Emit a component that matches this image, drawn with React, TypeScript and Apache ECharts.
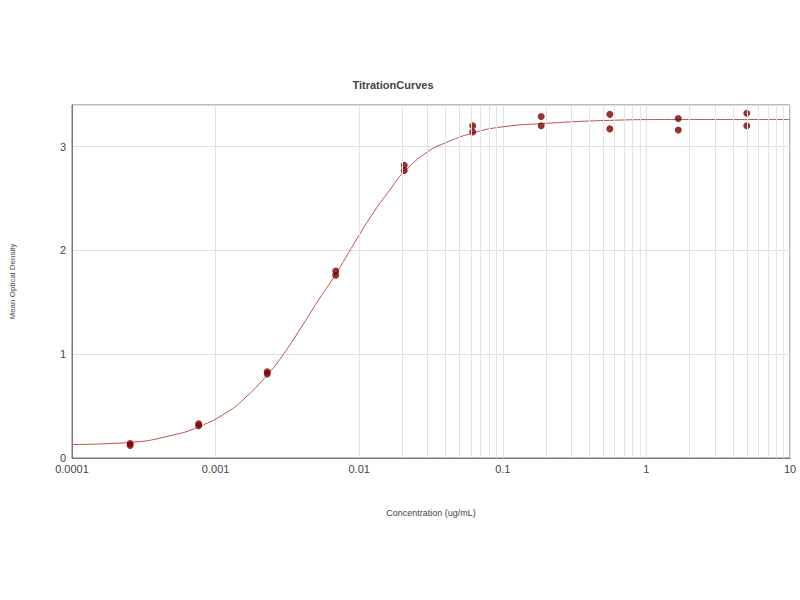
import React, { useEffect, useRef } from "react";
import * as echarts from "echarts";

// Concentrations (ug/mL), 3-fold dilution series, duplicates
const concentrations = [0.000254, 0.000762, 0.00229, 0.00686, 0.0206, 0.0617, 0.185, 0.556, 1.667, 5];
const replicateA = [0.12, 0.31, 0.81, 1.76, 2.77, 3.14, 3.2, 3.17, 3.16, 3.2];
const replicateB = [0.14, 0.33, 0.83, 1.8, 2.82, 3.2, 3.29, 3.31, 3.27, 3.32];

// Fitted curve
const curveX = [0.0001, 0.000254, 0.0005, 0.000762, 0.0012, 0.00158, 0.00229, 0.0029, 0.004, 0.0052, 0.00686, 0.0088, 0.0121, 0.0165, 0.0206, 0.03, 0.039, 0.0617, 0.1, 0.184, 0.5, 1.5, 10];
const curveY = [0.13, 0.15, 0.22, 0.3, 0.44, 0.57, 0.8, 0.98, 1.27, 1.52, 1.77, 2.02, 2.33, 2.59, 2.76, 2.95, 3.03, 3.13, 3.19, 3.22, 3.25, 3.26, 3.26];

const yTicks = [0, 1, 2, 3];
const xDecades = [0.0001, 0.001, 0.01, 0.1, 1, 10];

export default function App() {
  const ref = useRef<HTMLDivElement>(null);
  useEffect(() => {
    if (!ref.current) return;
    const chart = echarts.init(ref.current, undefined, { renderer: "svg" });
    const minorLines: { xAxis: number }[] = [];
    for (let i = 0; i < xDecades.length - 1; i++) {
      for (let k = 2; k <= 9; k++) minorLines.push({ xAxis: xDecades[i] * k });
    }
    const font = "Liberation Sans";
    chart.setOption({
      animation: false,
      backgroundColor: "#ffffff",
      title: {
        text: "TitrationCurves",
        left: 388,
        top: 74,
        textAlign: "center",
        textStyle: { fontFamily: font, fontSize: 11, fontWeight: 600, color: "#444" },
      },
      grid: { left: 70, right: 10, top: 105, bottom: 142, show: true, borderColor: "#777", borderWidth: 1, backgroundColor: "transparent" },
      xAxis: {
        type: "log",
        logBase: 10,
        min: xDecades[0],
        max: xDecades[xDecades.length - 1],
        name: "Concentration (ug/mL)",
        nameLocation: "middle",
        nameGap: 50,
        nameTextStyle: { fontFamily: font, fontSize: 9, color: "#444" },
        axisLine: { show: true, lineStyle: { color: "#777" } },
        axisTick: { show: false },
        axisLabel: {
          fontFamily: font,
          fontSize: 11,
          color: "#444",
          margin: 5,
          formatter: (v: number) => String(Number(v.toPrecision(1))),
        },
        splitLine: { show: true, lineStyle: { color: "#e0e0e0", width: 1 } },
      },
      yAxis: {
        type: "value",
        min: 0,
        max: 3.4,
        interval: 1,
        name: "Mean Optical Density",
        nameLocation: "middle",
        nameGap: 56,
        nameRotate: 90,
        nameTextStyle: { fontFamily: font, fontSize: 8, color: "#444" },
        axisLine: { show: true, lineStyle: { color: "#777" } },
        axisTick: { show: false },
        axisLabel: {
          fontFamily: font,
          fontSize: 11,
          color: "#444",
          margin: 6,
          showMaxLabel: false,
          formatter: (v: number) => (yTicks.includes(v) ? String(v) : ""),
        },
        splitLine: { show: true, lineStyle: { color: "#e0e0e0", width: 1 } },
      },
      series: [
        {
          type: "line",
          data: [],
          silent: true,
          markLine: {
            silent: true,
            symbol: "none",
            label: { show: false },
            lineStyle: { color: "#e4e4e4", width: 1, type: "solid" },
            data: minorLines,
          },
        },
        {
          type: "line",
          data: curveX.map((x, i) => [x, curveY[i]]),
          smooth: 0.5,
          showSymbol: false,
          lineStyle: { color: "#c0504d", width: 1 },
          z: 3,
        },
        {
          type: "scatter",
          data: concentrations.map((x, i) => [x, replicateA[i]]),
          symbolSize: 7,
          itemStyle: { color: "#800000" },
          z: 4,
        },
        {
          type: "scatter",
          data: concentrations.map((x, i) => [x, replicateB[i]]),
          symbolSize: 7,
          itemStyle: { color: "#800000" },
          z: 4,
        },
      ],
    });
    return () => chart.dispose();
  }, []);
  return <div ref={ref} style={{ position: "absolute", left: 0, top: 0, width: 800, height: 600 }} />;
}
